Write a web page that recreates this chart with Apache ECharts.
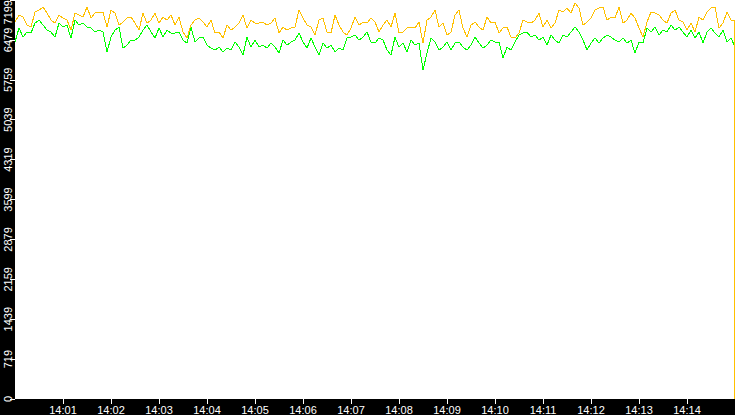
<!DOCTYPE html>
<html><head><meta charset="utf-8">
<script src="https://cdn.jsdelivr.net/npm/echarts@6/dist/echarts.min.js"></script>
<style>html,body{margin:0;padding:0;background:#000;overflow:hidden}#c{width:735px;height:415px}
#c svg path{shape-rendering:crispEdges}</style>
</head><body><div id="c"></div>
<script>
// X tick labels (one per minute, seconds since 14:00:00)
const xTickLabels = ['14:00','14:01','14:02','14:03','14:04','14:05','14:06','14:07','14:08','14:09','14:10','14:11','14:12','14:13','14:14','14:15'];
// Y tick labels
const yTickLabels = ['0','719','1439','2159','2879','3599','4319','5039','5759','6479','7199'];
// sample spacing in seconds and the two final sample times
const sampleStep = 5;
const tailTimes = [899, 900];

const yellowValues = [
6801,6927,6891,6747,6711,6981,7018,7072,6963,6837,
6783,6927,6873,6837,6657,6963,6927,6891,7072,6873,
6963,6981,6981,6711,7018,6963,6747,6801,6873,6891,
6783,6657,6963,6783,6837,6963,6783,6891,6837,6927,
6747,6891,6621,6512,6747,6837,6873,6801,6711,6837,
6603,6621,6512,6747,6657,6711,6783,6927,6693,6837,
6783,
6783,6801,6747,6783,6873,6603,6711,6657,6693,6711,
7018,6873,6747,6711,6567,6837,6873,6621,6603,6927,
6747,6621,6567,6693,6891,6747,6801,6783,6873,6801,
6621,6747,6837,6711,6963,6603,6621,6693,6711,6693,
6801,6422,6837,6891,7018,6711,6783,6567,6621,6927,
7018,6693,6530,6747,6801,6711,6657,6891,6783,6801,
6603,6693,6711,6530,6512,6603,6837,6801,6783,6837,
6963,6711,6837,6693,6783,7018,6981,7054,6963,7144,
7054,6747,6801,6873,7018,7054,7072,6837,6891,6873,
7072,6783,6837,6963,6873,6693,6530,6801,6981,6963,
6927,6837,6783,6963,7018,6837,6801,6657,6783,6621,
6891,6837,6981,7054,7072,6693,6783,6981,6837,
6837,0
];

const greenValues = [
6440,6693,6530,6621,6603,6783,6837,6747,6657,6621,
6530,6783,6711,6747,6512,6837,6747,6783,6711,6693,
6621,6657,6621,6260,6530,6657,6711,6332,6386,6476,
6476,6530,6657,6747,6621,6512,6693,6530,6657,6603,
6603,6621,6476,6422,6711,6440,6512,6530,6386,6332,
6296,6350,6260,6332,6296,6440,6350,6206,6530,6350,
6476,
6350,6386,6332,6422,6350,6242,6476,6386,6440,6476,
6603,6440,6332,6512,6350,6206,6422,6332,6386,6260,
6332,6296,6512,6530,6567,6476,6530,6621,6440,6422,
6512,6476,6296,6206,6530,6350,6422,6260,6476,6386,
6422,5935,6242,6512,6440,6296,6350,6440,6296,6422,
6440,6350,6296,6386,6530,6422,6332,6386,6476,6440,
6440,6152,6350,6296,6440,6567,6603,6621,6530,6567,
6476,6530,6386,6567,6476,6422,6567,6530,6621,6711,
6621,6476,6296,6422,6512,6422,6512,6567,6530,6476,
6440,6512,6422,6476,6242,6440,6422,6693,6621,6711,
6567,6657,6621,6747,6657,6711,6621,6530,6657,6512,
6621,6422,6621,6693,6603,6530,6657,6440,6512,
6386,3139
];

const regularCount = yellowValues.length - tailTimes.length;
const times = yellowValues.map((_, i) => i < regularCount ? i * sampleStep : tailTimes[i - regularCount]);
const pair = vals => vals.map((v, i) => [times[i], v]);

const chart = echarts.init(document.getElementById('c'), null, {renderer: 'svg'});
const font = 'Liberation Sans, Arial, sans-serif';
chart.setOption({
  backgroundColor: '#000',
  animation: false,
  grid: {left: 15, right: 0, top: 0, bottom: 16, show: true, backgroundColor: '#fff', borderWidth: 0,
         outerBoundsMode: 'none', containLabel: false},
  xAxis: {
    type: 'value', min: 0, max: 900, interval: 60,
    axisLine: {show: false},
    axisTick: {show: true, length: 5, lineStyle: {color: '#fff', width: 1}},
    axisLabel: {color: '#fff', fontFamily: font, fontSize: 11, margin: 5,
      showMinLabel: false, showMaxLabel: false,
      formatter: v => xTickLabels[Math.round(v / 60)]},
    splitLine: {show: false}
  },
  yAxis: {
    type: 'value', min: 0, max: 7199, interval: 719.9,
    axisLine: {show: false},
    axisTick: {show: true, length: 5, lineStyle: {color: '#fff', width: 1}},
    axisLabel: {color: '#fff', fontFamily: font, fontSize: 11, rotate: 90, margin: 2,
      alignMaxLabel: 'right',
      formatter: v => yTickLabels[Math.round(v / 719.9)]},
    splitLine: {show: false}
  },
  series: [
    {name: 'green', type: 'line', data: pair(greenValues), symbol: 'none', color: '#00ff00',
     lineStyle: {width: 1, color: '#00ff00'}},
    {name: 'yellow', type: 'line', data: pair(yellowValues), symbol: 'none', color: '#ffc000',
     lineStyle: {width: 1, color: '#ffc000'}}
  ]
});
</script></body></html>
